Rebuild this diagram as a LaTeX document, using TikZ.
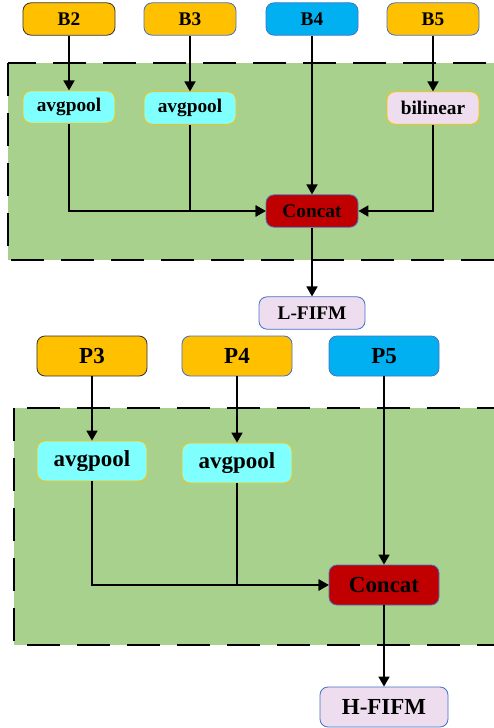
\documentclass[tikz,border=0pt]{standalone}
\usepackage{fontspec}
\setmainfont{Liberation Serif}
\usetikzlibrary{arrows.meta}

\definecolor{naranja}{HTML}{FFC000}
\definecolor{celeste}{HTML}{00B0F0}
\definecolor{cian}{HTML}{80FFFF}
\definecolor{rosa}{HTML}{EDDDEE}
\definecolor{verde}{HTML}{A9D18E}
\definecolor{granate}{HTML}{C00000}
\definecolor{azulborde}{HTML}{4472C4}

\begin{document}
\begin{tikzpicture}[x=0.03cm,y=-0.03cm,
    caja/.style={draw=azulborde, line width=0.7pt, rounded corners=0.24cm, inner sep=0pt,
      font=\bfseries\fontsize{16.5}{18}\selectfont, minimum width=2.76cm, minimum height=0.97cm},
    grande/.style={caja, font=\bfseries\fontsize{19.6}{22}\selectfont,
      minimum width=3.3cm, minimum height=1.2cm},
    flecha/.style={line width=1.5pt, -{Triangle[length=0.3cm,width=0.33cm]}},
    zona/.style={fill=verde, draw=black, line width=1.6pt, dash pattern=on 0.99cm off 0.51cm}]

    % Tamaño fijo de la figura (en píxeles de la referencia)
    \useasboundingbox (0,0) rectangle (493,728);

    % Zonas verdes con borde discontinuo
    \draw[zona] (8,63) rectangle (500,260);
    \draw[zona] (14,408) rectangle (500,645);

    % Entradas B2..B5
    \node[caja, fill=naranja, draw=black!80] (b2) at (69,19) {B2};
    \node[caja, fill=naranja] (b3) at (190,19) {B3};
    \node[caja, fill=celeste] (b4) at (312,19) {B4};
    \node[caja, fill=naranja] (b5) at (433,19) {B5};

    % Bloque L-FIFM
    \node[caja, fill=cian, draw=naranja] (avg1) at (69,107) {avgpool};
    \node[caja, fill=cian, draw=naranja] (avg2) at (190,108) {avgpool};
    \node[caja, fill=rosa, draw=naranja] (bil) at (433,108) {bilinear};
    \node[caja, fill=granate] (cat1) at (312,211) {Concat};
    \node[caja, fill=rosa, minimum width=3.18cm] (lfifm) at (312,313) {L-FIFM};

    \draw[flecha] (b2) -- (avg1);
    \draw[flecha] (b3) -- (avg2);
    \draw[flecha] (b5) -- (bil);
    \draw[flecha] (b4) -- (cat1);
    \draw[flecha] (avg1) |- (cat1);
    \draw[flecha] (avg2) |- (cat1);
    \draw[flecha] (bil) |- (cat1);
    \draw[flecha] (cat1) -- (lfifm);

    % Entradas P3..P5
    \node[grande, fill=naranja, draw=black!80] (p3) at (92,356) {P3};
    \node[grande, fill=naranja] (p4) at (237,356) {P4};
    \node[grande, fill=celeste] (p5) at (384,356) {P5};

    % Bloque H-FIFM
    \node[grande, fill=cian, draw=naranja] (avg3) at (92,461) {avgpool};
    \node[grande, fill=cian, draw=naranja] (avg4) at (237,463) {avgpool};
    \node[grande, fill=granate] (cat2) at (384,585) {Concat};
    \node[grande, fill=rosa, minimum width=3.84cm] (hfifm) at (384,707) {H-FIFM};

    \draw[flecha] (p3) -- (avg3);
    \draw[flecha] (p4) -- (avg4);
    \draw[flecha] (p5) -- (cat2);
    \draw[flecha] (avg3) |- (cat2);
    \draw[flecha] (avg4) |- (cat2);
    \draw[flecha] (cat2) -- (hfifm);
\end{tikzpicture}
\end{document}
